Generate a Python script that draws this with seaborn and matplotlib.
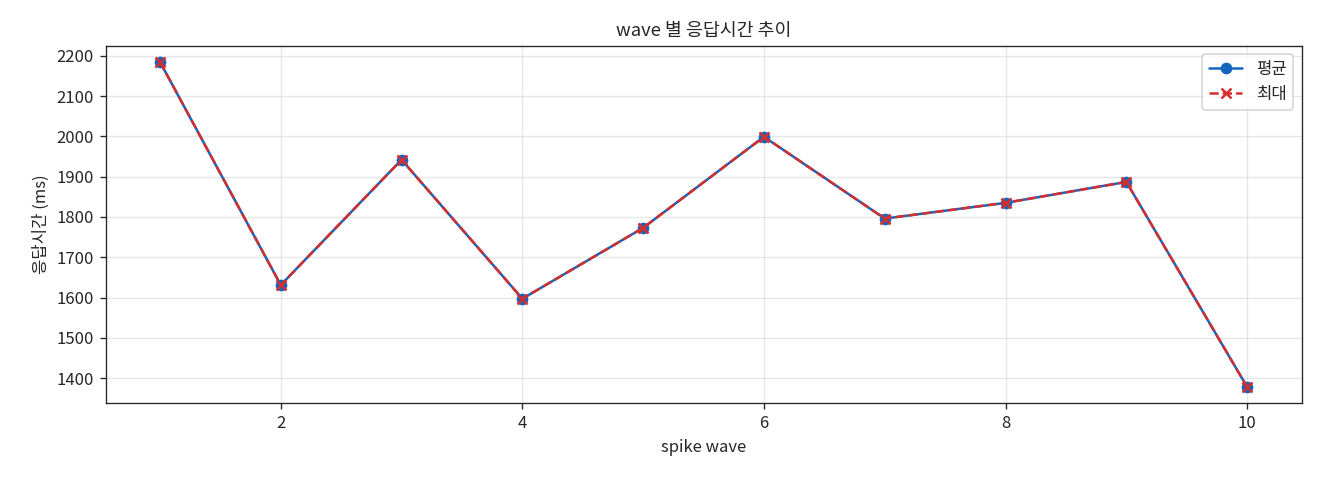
import matplotlib
matplotlib.use("Agg")
import matplotlib.pyplot as plt
import seaborn as sns
import pandas as pd

waves = [1, 2, 3, 4, 5, 6, 7, 8, 9, 10]
avg_ms = [2185, 1631, 1942, 1597, 1773, 1999, 1796, 1835, 1887, 1378]
max_ms = [2185, 1631, 1942, 1597, 1773, 1999, 1796, 1835, 1887, 1378]

sns.set_style("ticks")
plt.rcParams['font.family'] = ['Noto Sans CJK KR', 'DejaVu Sans']
plt.rcParams['axes.unicode_minus'] = False

df = pd.DataFrame({"wave": waves, "avg": avg_ms, "max": max_ms})

fig, ax = plt.subplots(figsize=(11, 4), dpi=120)
sns.lineplot(data=df, x="wave", y="avg", ax=ax, color="#1565C0", marker="o",
             markersize=6, linewidth=1.5, markeredgecolor="#1565C0",
             markeredgewidth=1, label="평균", legend=False)
sns.lineplot(data=df, x="wave", y="max", ax=ax, color="#D32F2F", marker="x",
             markersize=6, linewidth=1.5, markeredgecolor="#D32F2F",
             markeredgewidth=1.5, label="최대", legend=False)
lines = ax.get_lines()
lines[1].set_linestyle("--")
ax.set_title("wave 별 응답시간 추이", fontsize=11)
ax.set_xlabel("spike wave", fontsize=10)
ax.set_ylabel("응답시간 (ms)", fontsize=10)
ax.grid(True, alpha=0.3, color="#b0b0b0")
ax.tick_params(labelsize=10)
ax.legend(handles=lines[:2], labels=["평균", "최대"], loc="upper right", fontsize=10)
fig.subplots_adjust(left=0.08, right=0.986, top=0.905, bottom=0.16)
fig.savefig("out.png", dpi=120)
